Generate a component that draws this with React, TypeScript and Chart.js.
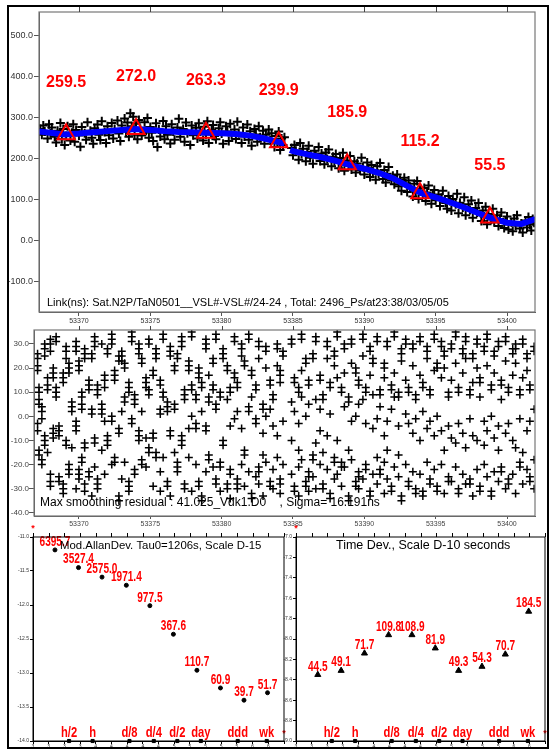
import React, { useEffect, useRef } from "react";
import { Chart, registerables } from "chart.js";

Chart.register(...registerables);

// ---------------- DATA ----------------
// Top panel: link measurements (ns) vs MJD
const linkX = [
  53367.3, 53367.4, 53367.5, 53367.6, 53367.8, 53367.9, 53368.0, 53368.1, 53368.3,
  53368.4, 53368.5, 53368.7, 53368.8, 53368.9, 53369.0, 53369.1, 53369.2, 53369.4, 53369.5,
  53369.6, 53369.7, 53369.8, 53370.0, 53370.1, 53370.2, 53370.4, 53370.5, 53370.6, 53370.8, 53370.9,
  53371.0, 53371.1, 53371.3, 53371.4, 53371.5, 53371.6, 53371.8, 53371.9, 53372.0,
  53372.1, 53372.3, 53372.4, 53372.5, 53372.7, 53372.8, 53372.9, 53373.0,
  53373.2, 53373.3, 53373.4, 53373.5, 53373.6, 53373.7, 53373.8, 53373.9, 53374.0, 53374.1,
  53374.2, 53374.3, 53374.4, 53374.6, 53374.7, 53374.8, 53374.9, 53375.0,
  53375.1, 53375.2, 53375.4, 53375.5, 53375.6, 53375.7, 53375.9, 53376.0,
  53376.1, 53376.2, 53376.4, 53376.5, 53376.6, 53376.7, 53376.9, 53377.0, 53377.1,
  53377.3, 53377.4, 53377.5, 53377.6, 53377.8, 53377.9, 53378.0, 53378.2,
  53378.3, 53378.4, 53378.5, 53378.7, 53378.8, 53378.9, 53379.0, 53379.1, 53379.3,
  53379.4, 53379.5, 53379.6, 53379.8, 53379.9, 53380.0, 53380.1, 53380.3,
  53380.4, 53380.5, 53380.6, 53380.7, 53380.9, 53381.0, 53381.1, 53381.2,
  53381.4, 53381.5, 53381.6, 53381.8, 53381.9, 53382.0, 53382.1, 53382.3,
  53382.4, 53382.5, 53382.6, 53382.7, 53382.9, 53383.0, 53383.1,
  53383.3, 53383.4, 53383.5, 53383.7, 53383.8, 53383.9, 53384.0, 53384.1, 53384.2, 53384.3, 53384.4,
  53384.9, 53385.0, 53385.1, 53385.2, 53385.4, 53385.5, 53385.6, 53385.7, 53385.9, 53386.0,
  53386.1, 53386.2, 53386.4, 53386.5, 53386.6, 53386.8, 53386.9, 53387.0,
  53387.2, 53387.3, 53387.4, 53387.5, 53387.7, 53387.8, 53387.9, 53388.0,
  53388.2, 53388.3, 53388.4, 53388.5, 53388.6, 53388.8, 53388.9, 53389.0, 53389.1,
  53389.3, 53389.4, 53389.5, 53389.7, 53389.8, 53389.9, 53390.0, 53390.2,
  53390.3, 53390.4, 53390.5, 53390.6, 53390.8, 53390.9, 53391.0, 53391.1,
  53391.3, 53391.4, 53391.5, 53391.6, 53391.7, 53391.9, 53392.0, 53392.1,
  53392.3, 53392.4, 53392.5, 53392.6, 53392.8, 53392.9, 53393.0, 53393.1,
  53393.2, 53393.4, 53393.5, 53393.6, 53393.7, 53393.8, 53393.9, 53394.1,
  53394.2, 53394.3, 53394.4, 53394.5, 53394.7, 53394.8, 53394.9, 53395.0,
  53395.2, 53395.3, 53395.4, 53395.5, 53395.7, 53395.8, 53395.9, 53396.0,
  53396.1, 53396.2, 53396.4, 53396.5, 53396.6, 53396.7, 53396.9, 53397.0,
  53397.1, 53397.3, 53397.4, 53397.5, 53397.6, 53397.8, 53397.9, 53398.0,
  53398.2, 53398.3, 53398.4, 53398.5, 53398.6, 53398.7, 53398.9, 53399.0, 53399.1,
  53399.3, 53399.4, 53399.5, 53399.6, 53399.8, 53399.9, 53400.0, 53400.1,
  53400.3, 53400.4, 53400.5, 53400.6, 53400.7, 53400.9, 53401.0, 53401.1,
  53401.3, 53401.4, 53401.5, 53401.6, 53401.7, 53401.8, 53401.9,
];
const linkY = [
  272, 258, 281, 266, 249, 284, 262, 276, 253,
  239, 268, 287, 247, 272, 233, 255, 279, 244, 263,
  284, 241, 270, 256, 229, 277, 262, 246, 289, 268, 251,
  236, 274, 283, 258, 245, 291, 265, 238, 279,
  257, 287, 249, 272, 293, 261, 243, 281,
  298, 266, 288, 253, 311, 279, 302, 258, 285, 247,
  294, 272, 256, 289, 268, 299, 251, 277,
  263, 243, 286, 228, 271, 254, 292, 247,
  279, 258, 237, 284, 266, 246, 276, 297, 253,
  272, 241, 288, 262, 233, 281, 257, 275,
  249, 286, 266, 244, 278, 259, 291, 238, 270,
  282, 255, 247, 274, 289, 261, 236, 279,
  266, 243, 285, 257, 271, 248, 290, 262,
  238, 276, 254, 283, 246, 267, 231, 272,
  259, 241, 279, 252, 268, 236, 258,
  271, 244, 262, 228, 255, 238, 266, 221, 249, 233, 252,
  226, 208, 233, 219, 197, 238, 211, 224, 193, 216,
  231, 202, 187, 219, 209, 228, 194, 212,
  186, 215, 199, 222, 181, 204, 193, 211,
  176, 201, 189, 214, 170, 195, 182, 206, 173,
  193, 166, 188, 171, 202, 179, 161, 190,
  176, 155, 184, 168, 148, 181, 163, 189,
  150, 172, 141, 163, 179, 147, 158, 137,
  161, 132, 148, 121, 153, 139, 118, 146,
  131, 107, 138, 119, 145, 101, 126, 112,
  128, 96, 117, 134, 89, 111, 123, 98,
  112, 84, 104, 121, 91, 77, 108, 96,
  73, 101, 88, 114, 66, 92, 80, 105,
  61, 88, 74, 97, 55, 79, 68, 91,
  47, 73, 58, 82, 39, 64, 51, 77, 44,
  61, 35, 52, 68, 30, 47, 58, 26,
  44, 22, 53, 36, 61, 29, 41, 19,
  48, 31, 57, 38, 24, 52, 43,
];

// Blue smoothing curve (null = break)
const smoothX = [
  53367.2, 53368, 53369, 53370, 53371, 53372, 53373, 53374, 53375, 53376,
  53377, 53378, 53379, 53380, 53381, 53382, 53383, 53384, 53384.4, 53384.6,
  53384.8, 53385, 53386, 53387, 53388, 53389, 53390, 53391, 53392, 53393,
  53394, 53395, 53396, 53397, 53398, 53399, 53400, 53401, 53402,
];
const smoothY = [
  266, 263, 259, 261, 264, 267, 270, 272, 270, 267,
  265, 264, 263, 262, 260, 256, 249, 240, 236, null,
  221, 218, 210, 203, 194, 184, 175, 165, 152, 133,
  115, 105, 93, 80, 66, 53, 43, 40, 52,
];

// Red triangle markers (daily smoothed values)
const markX = [53369.1, 53374.0, 53378.9, 53384.0, 53388.8, 53393.9, 53398.8];
const markY = [259.5, 272.0, 263.3, 239.9, 185.9, 115.2, 55.5];

const mjdTicks = [53370, 53375, 53380, 53385, 53390, 53395, 53400];
const linkTicks = [-100, 0, 100, 200, 300, 400, 500];
const linkCaption =
  "Link(ns): Sat.N2P/TaN0501__VSL#-VSL#/24-24 , Total: 2496_Ps/at23:38/03/05/05";

// Middle panel: smoothing residuals, grouped by pass
const resPassMjd = [
  53367.1, 53367.2, 53367.4, 53367.6, 53367.8, 53368.0, 53368.2, 53368.4, 53368.6, 53368.9,
  53369.1, 53369.3, 53369.5, 53369.8, 53370.0, 53370.2, 53370.4, 53370.7, 53370.9, 53371.1,
  53371.3, 53371.6, 53371.8, 53372.0, 53372.3, 53372.5, 53372.8, 53373.0, 53373.2, 53373.5,
  53373.7, 53373.9, 53374.2, 53374.4, 53374.7, 53374.9, 53375.2, 53375.4, 53375.7, 53375.9,
  53376.2, 53376.4, 53376.7, 53376.9, 53377.2, 53377.4, 53377.7, 53377.9, 53378.2, 53378.4,
  53378.6, 53378.9, 53379.1, 53379.4, 53379.6, 53379.9, 53380.1, 53380.4, 53380.6, 53380.9,
  53381.1, 53381.4, 53381.6, 53381.9, 53382.1, 53382.4, 53382.6, 53382.9, 53383.1, 53383.4,
  53383.6, 53383.9, 53384.1, 53384.3, 53384.9, 53385.1, 53385.4, 53385.6, 53385.9, 53386.1,
  53386.4, 53386.6, 53386.9, 53387.1, 53387.4, 53387.6, 53387.9, 53388.1, 53388.4, 53388.6,
  53388.9, 53389.1, 53389.4, 53389.6, 53389.9, 53390.1, 53390.4, 53390.6, 53390.9, 53391.1,
  53391.4, 53391.6, 53391.9, 53392.1, 53392.4, 53392.6, 53392.9, 53393.1, 53393.4, 53393.6,
  53393.9, 53394.1, 53394.4, 53394.6, 53394.9, 53395.1, 53395.4, 53395.6, 53395.9, 53396.1,
  53396.4, 53396.6, 53396.9, 53397.1, 53397.4, 53397.6, 53397.9, 53398.1, 53398.4, 53398.6,
  53398.9, 53399.1, 53399.4, 53399.6, 53399.9, 53400.1, 53400.4, 53400.6, 53400.9, 53401.1,
  53401.4, 53401.6, 53401.9,
];
const resPassValues = [
  [26, 24, 21, 19, -3, -6], [12, 10, 7, 5, -14, -16], [4, 2, -1, -18, -20], [30, 28, 25, -8, -10, -12],
  [16, 13, 11, -15], [32, 30, 27, -24, -27, -29], [20, 18, 16, -5, -7, -9], [33, 31, 12, 10, 8],
  [-4, -6, -8, -25, -27], [18, 16, 14, -28, -30, -32],
  [29, 27, 24, -10, -12], [22, 20, 18, -20, -22, -24], [6, 4, 2, -13], [31, 29, 27, -2, -4, -6, -30],
  [23, 21, 19, -22, -24, -26], [10, 8, 5, 3, -17, -19], [28, 26, 24, -11, -13, -28, -31], [15, 13, 11, -23, -25],
  [26, 24, 3, 1, -33], [33, 31, 29, -9, -11, -21],
  [13, 11, 9, -26, -28, -30], [30, 5, 3, 1, -14], [17, 15, 12, -2, -24], [28, 26, -8, -10, -12],
  [34, 32, 30, 0, -2, -20], [19, 17, 15, -17, -19], [25, 23, -5, -7, -33, -35], [27, 25, 23, 2, -26],
  [22, 20, 8, 6, -19], [14, 12, 10, -27, -29, -31],
  [35, 33, 31, -1, -3], [9, 7, 5, -22, -24], [30, 28, 26, -6, -8, -10], [24, 22, 2, -18, -20],
  [16, 14, 12, -9, -21], [32, 30, 11, 9, -13, -15], [19, 17, -7, -9, -29], [28, 26, 24, -15, -17],
  [15, 13, 3, 1, -23, -31], [34, 32, 10, 8, -17],
  [6, 4, 2, -27, -29], [29, 27, 25, -6, -8, -33], [21, 19, 5, 3, -15], [26, 24, -19, -21, -23],
  [33, 31, 29, -8, -10, -12], [11, 9, 7, -28, -30], [23, 21, 19, -5, -17], [35, 33, 13, 11, 0, -31],
  [9, 7, -3, -5, -20], [20, 18, 16, -27, -29],
  [14, 12, 2, -33, -35], [32, 30, 28, -4, -6, -23], [17, 8, 6, -16, -18], [24, 22, 13, 11, -21],
  [34, 32, 5, 3, -26, -28], [10, 8, -19, -21, -31], [28, 26, 24, -10, -12], [21, 19, 7, -28, -30],
  [12, 10, -4, -22, -24, -34], [33, 31, 18, 16, -1],
  [14, 12, 2, -26, -28, -30], [30, 28, 25, -5, -20], [23, 21, -14, -16, -29], [34, 32, 4, 2, -23],
  [19, 17, 8, -32, -34], [13, 11, -1, -3, -25], [31, 29, 24, -21, -23, -28], [5, 3, -7, -16, -33],
  [29, 27, 20, 0, -19], [15, 13, 3, -27, -29],
  [9, 7, -4, -22, -30], [30, 28, 21, -8, -17], [19, 17, 14, -26, -28, -32], [27, 25, -2, -20],
  [32, 30, 6, -10, -24], [16, 14, 2, -29, -31], [12, 10, -3, -14, -21, -33], [34, 32, 19, 8, -18],
  [24, 22, 0, -27, -29], [15, 13, 5, -23, -25, -31],
  [26, 24, -16, -18, -25], [33, 31, 7, -11, -30], [17, 15, 3, -6, -20], [9, 7, -15, -28, -30],
  [31, 29, 24, -8, -22], [14, 12, 1, -32, -34], [27, 25, 21, -17, -19, -26], [35, 33, 16, -10, -24],
  [12, 10, -19, -21, -29], [30, 28, 18, 4, -21],
  [8, 6, -14, -33, -35], [32, 30, 22, -2, -18], [20, 18, 0, -27, -29], [15, 13, 5, -23, -25, -30],
  [34, 32, 25, 7, -26], [12, 10, -3, -20, -22], [29, 27, 17, -31, -33], [24, 22, 9, -5, -24],
  [33, 31, -1, -17, -28], [11, 9, 4, -22, -24],
  [22, 20, 16, -8, -19, -32], [31, 29, -2, -14, -26], [13, 11, 3, -29, -31], [35, 33, 18, 8, -21],
  [10, 8, -4, -16, -25], [28, 26, 23, -33, -35], [32, 30, 15, 1, -20], [12, 10, -3, -27, -29],
  [30, 28, 21, -7, -23], [9, 7, -1, -30, -32],
  [33, 31, 17, -10, -24], [14, 12, 2, -31, -33], [29, 27, 24, -5, -19], [11, 9, -2, -26, -28],
  [34, 32, 19, -8, -22], [22, 20, 0, -29, -31], [31, 29, 16, -6, -20], [27, 25, 20, -14, -32],
  [10, 8, -4, -25, -27], [30, 28, 15, -9, -27],
  [35, 33, 22, -11, -21], [12, 10, -3, -30, -32], [28, 26, 18, -7, -24], [33, 31, 24, -13, -28],
  [11, 9, -1, -26, -28], [26, 24, 14, -8, -33], [32, 30, 20, -10, -22], [16, 14, 8, -29, -31],
  [29, 27, -2, -12, -20], [34, 32, 21, -6, -25],
  [13, 11, 0, -31, -33], [27, 25, 18, -9, -23], [31, 29, -4, -14, -27], [15, 13, 7, -21, -23],
  [33, 31, 23, -7, -30], [12, 10, -3, -26, -28], [28, 26, 17, -10, -24], [30, 28, 22, -13, -32],
  [11, 9, -1, -19, -21], [32, 30, 16, -15, -28],
  [26, 24, 19, -6, -22], [13, 11, -2, -25, -27], [29, 27, 3, -18, -30],
];
const resTicks = [-40, -30, -20, -10, 0, 10, 20, 30];
const resCaption = "Max smoothing residual : 41.025_Vdk1.D0    , Sigma= 16.191ns";

// Bottom panels: log10(tau) axis
const tauLog = [3.08, 3.38, 3.68, 3.99, 4.29, 4.59, 4.89, 5.19, 5.49, 5.79];
const madevLog = [-11.19, -11.45, -11.59, -11.71, -12.01, -12.43, -12.96, -13.22, -13.4, -13.29];
const madevText = ["6395.7", "3527.4", "2575.0", "1971.4", "977.5", "367.6", "110.7", "60.9", "39.7", "51.7"];
const tdevLog = [-8.35, -8.31, -8.14, -7.96, -7.96, -8.09, -8.31, -8.27, -8.15, -7.73];
const tdevText = ["44.5", "49.1", "71.7", "109.8", "108.9", "81.9", "49.3", "54.3", "70.7", "184.5"];
const periodNames = ["h/2", "h", "d/8", "d/4", "d/2", "day", "ddd", "wk"];
const periodLog = [3.26, 3.56, 4.03, 4.34, 4.64, 4.94, 5.41, 5.78];
const tauTicks = [2.8, 3.0, 3.2, 3.4, 3.6, 3.8, 4.0, 4.2, 4.4, 4.6, 4.8, 5.0, 5.2, 5.4, 5.6, 5.8, 6.0];
const tauTickText = ["3", "3", "3", "3", "4", "4", "4", "4", "4", "5", "5", "5", "5", "5", "6", "6", ""];
const madevTicks = [-14, -13.5, -13, -12.5, -12, -11.5, -11];
const tdevTicks = [-9, -8.8, -8.6, -8.4, -8.2, -8, -7.8, -7.6, -7.4, -7.2, -7];
const madevTitle = "Mod.AllanDev. Tau0=1206s, Scale D-15";
const tdevTitle = "Time Dev., Scale D-10 seconds";

// ---------------- STYLE ----------------
const FONT = "'Liberation Sans', Arial, Helvetica, sans-serif";
const RED = "#ff0000";
const BLUE = "#0000ff";

const framePlugin = {
  id: "frame",
  afterDraw(chart: any, _a: any, opts: any) {
    const { ctx, chartArea: a } = chart;
    ctx.save();
    ctx.strokeStyle = opts.color;
    ctx.lineWidth = opts.width;
    ctx.strokeRect(a.left, a.top, a.right - a.left, a.bottom - a.top);
    if (opts.topTickLen) {
      const xs = chart.scales.x;
      ctx.lineWidth = 1;
      ctx.strokeStyle = opts.tickColor || opts.color;
      ctx.beginPath();
      xs.ticks.forEach((t: any) => {
        const px = Math.round(xs.getPixelForValue(t.value)) + 0.5;
        ctx.moveTo(px, a.top);
        ctx.lineTo(px, a.top - opts.topTickLen);
      });
      ctx.stroke();
    }
    ctx.restore();
  },
};

function textPlugin(id: string, draw: (chart: any) => void) {
  return {
    id,
    afterDatasetsDraw(chart: any) {
      chart.ctx.save();
      draw(chart);
      chart.ctx.restore();
    },
  };
}

// horizontally condensed text (still real canvas text)
function narrowText(ctx: CanvasRenderingContext2D, text: string, x: number, y: number, sx: number) {
  ctx.save();
  ctx.translate(x, y);
  ctx.scale(sx, 1);
  ctx.fillText(text, 0, 0);
  ctx.restore();
}

function axis(o: {
  min: number; max: number; ticks: number[]; label: (v: number, i: number) => string;
  size: number; font: number; tickLen: number; pad: number; vertical: boolean; line: string; color: string;
}) {
  return {
    type: "linear",
    min: o.min,
    max: o.max,
    afterBuildTicks: (s: any) => {
      s.ticks = o.ticks.map((v) => ({ value: v }));
    },
    afterFit: (s: any) => {
      if (o.vertical) s.width = o.size;
      else s.height = o.size;
    },
    ticks: {
      autoSkip: false,
      maxRotation: 0,
      minRotation: 0,
      padding: o.pad,
      color: o.color,
      font: { family: FONT, size: o.font },
      callback: (v: any, i: number) => o.label(Number(v), i),
    },
    grid: { drawOnChartArea: false, drawTicks: true, tickLength: o.tickLen, color: o.line, lineWidth: 1 },
    border: { display: true, color: o.line, width: 1 },
  };
}

const baseOpts = {
  animation: false,
  responsive: false,
  maintainAspectRatio: false,
  events: [] as string[],
};

function buildTop(canvas: HTMLCanvasElement) {
  const link = linkX.map((x, i) => ({ x, y: linkY[i] }));
  const smooth = smoothX.map((x, i) => ({ x, y: smoothY[i] }));
  const marks = markX.map((x, i) => ({ x, y: markY[i] }));
  const texts = textPlugin("topText", (chart) => {
    const { ctx, chartArea } = chart;
    const meta = chart.getDatasetMeta(0);
    ctx.fillStyle = RED;
    ctx.font = `bold 16px ${FONT}`;
    ctx.textAlign = "center";
    ctx.textBaseline = "middle";
    meta.data.forEach((el: any, i: number) => ctx.fillText(markY[i].toFixed(1), el.x, el.y - 52));
    ctx.fillStyle = "#000";
    ctx.font = `11px ${FONT}`;
    ctx.textAlign = "left";
    ctx.textBaseline = "alphabetic";
    ctx.fillText(linkCaption, chartArea.left + 8, chartArea.bottom - 6);
  });
  return new Chart(canvas, {
    type: "scatter",
    data: {
      datasets: [
        { data: marks, pointStyle: "triangle", pointRadius: 10, borderColor: RED, borderWidth: 2, backgroundColor: "rgba(0,0,0,0)", order: 0 },
        { data: smooth, showLine: true, pointRadius: 0, borderColor: BLUE, borderWidth: 6, spanGaps: false, order: 1 },
        { data: link, pointStyle: "cross", pointRadius: 4.5, borderColor: "#000", borderWidth: 2, order: 2 },
      ],
    } as any,
    options: {
      ...baseOpts,
      layout: { padding: { left: 0, top: 11, right: 15, bottom: 0 } },
      plugins: {
        legend: { display: false },
        tooltip: { enabled: false },
        frame: { color: "#777", width: 1.2, topTickLen: 5, tickColor: "#444" },
      },
      scales: {
        x: axis({ min: 53367.2, max: 53401.96, ticks: mjdTicks, label: (v) => String(v), size: 18, font: 7, tickLen: 4, pad: 1, vertical: false, line: "#555", color: "#333" }),
        y: axis({ min: -175.6, max: 558.5, ticks: linkTicks, label: (v) => v.toFixed(1), size: 39, font: 9, tickLen: 5, pad: 1, vertical: true, line: "#555", color: "#333" }),
      },
    } as any,
    plugins: [framePlugin, texts],
  });
}

function buildRes(canvas: HTMLCanvasElement) {
  const pts: { x: number; y: number }[] = [];
  resPassMjd.forEach((x, i) => resPassValues[i].forEach((y) => pts.push({ x, y })));
  const texts = textPlugin("resText", (chart) => {
    const { ctx, chartArea } = chart;
    ctx.fillStyle = "#000";
    ctx.font = `12px ${FONT}`;
    ctx.textAlign = "left";
    ctx.textBaseline = "alphabetic";
    ctx.fillText(resCaption, chartArea.left + 6, chartArea.bottom - 10);
  });
  return new Chart(canvas, {
    type: "scatter",
    data: {
      datasets: [{ data: pts, pointStyle: "cross", pointRadius: 4, borderColor: "#000", borderWidth: 1.5 }],
    } as any,
    options: {
      ...baseOpts,
      layout: { padding: { left: 0, top: 12, right: 15, bottom: 0 } },
      plugins: {
        legend: { display: false },
        tooltip: { enabled: false },
        frame: { color: "#777", width: 1.2, topTickLen: 4, tickColor: "#444" },
      },
      scales: {
        x: axis({ min: 53366.85, max: 53401.96, ticks: mjdTicks, label: (v) => String(v), size: 16, font: 7, tickLen: 3, pad: 1, vertical: false, line: "#555", color: "#444" }),
        y: axis({ min: -41.3, max: 35.8, ticks: resTicks, label: (v) => v.toFixed(1), size: 34, font: 8, tickLen: 5, pad: 0, vertical: true, line: "#555", color: "#444" }),
      },
    } as any,
    plugins: [framePlugin, texts],
  });
}

function buildDev(
  canvas: HTMLCanvasElement,
  cfg: {
    id: string; values: number[]; labels: string[]; yMin: number; yMax: number; yTicks: number[];
    yWidth: number; padRight: number; title: string; titleDx: number; titleSize: number; style: string; radius: number;
  }
) {
  const pts = tauLog.map((x, i) => ({ x, y: cfg.values[i] }));
  const periods = periodLog.map((x) => ({ x, y: cfg.yMin }));
  const texts = textPlugin(cfg.id, (chart) => {
    const { ctx, chartArea: a } = chart;
    const m0 = chart.getDatasetMeta(0);
    const m1 = chart.getDatasetMeta(1);
    ctx.fillStyle = RED;
    ctx.font = `bold 14px ${FONT}`;
    ctx.textAlign = "center";
    ctx.textBaseline = "bottom";
    m0.data.forEach((el: any, i: number) => narrowText(ctx, cfg.labels[i], el.x, el.y - 1, 0.72));
    m1.data.forEach((el: any, i: number) => narrowText(ctx, periodNames[i], el.x, el.y - 1, 0.8));
    ctx.font = `bold 9px ${FONT}`;
    ctx.textBaseline = "middle";
    ctx.fillText("*", a.left, a.top - 8);
    ctx.fillText("*", a.right, a.bottom - 7);
    ctx.fillStyle = "#000";
    ctx.font = `${cfg.titleSize}px ${FONT}`;
    ctx.textAlign = "left";
    ctx.textBaseline = "middle";
    ctx.fillText(cfg.title, a.left + cfg.titleDx, a.top + 9);
  });
  return new Chart(canvas, {
    type: "scatter",
    data: {
      datasets: [
        { data: pts, pointStyle: cfg.style, pointRadius: cfg.radius, borderColor: "#000", backgroundColor: "#000", borderWidth: 1, clip: false },
        { data: periods, pointStyle: "rect", pointRadius: 2.2, borderColor: "#000", backgroundColor: "#000", borderWidth: 1, clip: false },
      ],
    } as any,
    options: {
      ...baseOpts,
      layout: { padding: { left: 0, top: 17, right: cfg.padRight, bottom: 0 } },
      plugins: {
        legend: { display: false },
        tooltip: { enabled: false },
        frame: { color: "#000", width: 1, topTickLen: 4, tickColor: "#000" },
      },
      scales: {
        x: axis({ min: 2.8, max: 6.0, ticks: tauTicks, label: (_v, i) => tauTickText[i] ?? "", size: 10, font: 5, tickLen: 3, pad: 0, vertical: false, line: "#000", color: "#333" }),
        y: axis({ min: cfg.yMin, max: cfg.yMax, ticks: cfg.yTicks, label: (v) => v.toFixed(1), size: cfg.yWidth, font: 5, tickLen: 3, pad: 1, vertical: true, line: "#000", color: "#333" }),
      },
    } as any,
    plugins: [framePlugin, texts],
  });
}

export default function App() {
  const topRef = useRef<HTMLCanvasElement>(null);
  const resRef = useRef<HTMLCanvasElement>(null);
  const madRef = useRef<HTMLCanvasElement>(null);
  const tdvRef = useRef<HTMLCanvasElement>(null);

  useEffect(() => {
    const charts = [
      buildTop(topRef.current!),
      buildRes(resRef.current!),
      buildDev(madRef.current!, {
        id: "madText", values: madevLog, labels: madevText, yMin: -14, yMax: -11, yTicks: madevTicks,
        yWidth: 33, padRight: 8, title: madevTitle, titleDx: 27, titleSize: 11.4, style: "circle", radius: 2,
      }),
      buildDev(tdvRef.current!, {
        id: "tdvText", values: tdevLog, labels: tdevText, yMin: -9, yMax: -7, yTicks: tdevTicks,
        yWidth: 20, padRight: 2, title: tdevTitle, titleDx: 40, titleSize: 12.5, style: "triangle", radius: 3.5,
      }),
    ];
    return () => charts.forEach((c) => c.destroy());
  }, []);

  const abs = (left: number, top: number, width: number, height: number) => ({
    position: "absolute" as const, left, top, width, height,
  });

  return (
    <div style={{ position: "absolute", left: 0, top: 0, width: 550, height: 751, background: "#fff", overflow: "hidden" }}>
      <canvas ref={topRef} width={550} height={330} style={abs(0, 0, 550, 330)} />
      <canvas ref={resRef} width={550} height={214} style={abs(0, 318, 550, 214)} />
      <canvas ref={madRef} width={292} height={231} style={abs(0, 520, 292, 231)} />
      <canvas ref={tdvRef} width={274} height={231} style={abs(276, 520, 274, 231)} />
      <div style={{ ...abs(7, 5, 542, 744), border: "2px solid #000", boxSizing: "border-box", pointerEvents: "none" }} />
    </div>
  );
}
